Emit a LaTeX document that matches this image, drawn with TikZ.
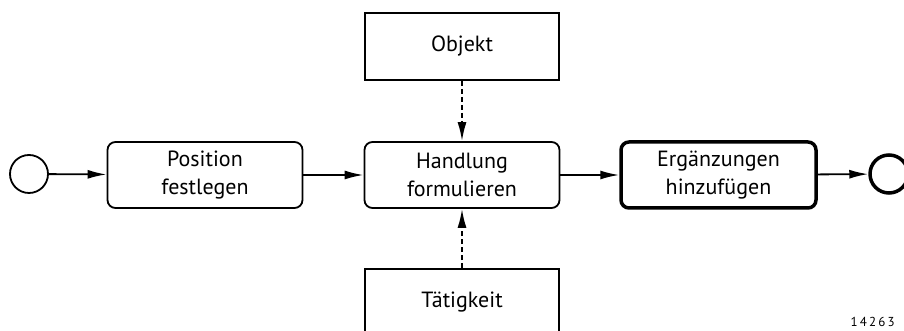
\documentclass[tikz,border=0pt]{standalone}
\usepackage{fontspec}
\setmainfont{PT Sans}
\usepackage{tikz}
\usetikzlibrary{arrows.meta}

\tikzset{
  task/.style={draw, rounded corners=8pt, line width=1.8pt, minimum width=195pt,
    minimum height=66pt, align=center, font=\fontsize{22}{28}\selectfont},
  objbox/.style={draw, line width=1.8pt, minimum width=194pt, minimum height=67pt,
    font=\fontsize{22}{28}\selectfont},
  event/.style={draw, circle, line width=1.8pt, minimum size=38pt, inner sep=0pt},
  flow/.style={line width=1.8pt, -{Latex[length=19pt,width=9pt]}},
  assoc/.style={line width=1.8pt, dash pattern=on 5pt off 3pt, -{Latex[length=19pt,width=9pt]}}
}

\begin{document}
\begin{tikzpicture}[x=1pt,y=1pt]
            \clip (0,0) rectangle (904,331);
            
            \node[event] (start) at (29,157) {};
            \node[task] (pos) at (205,156) {Position\\festlegen};
            \node[task] (hand) at (462,156) {Handlung\\formulieren};
            \node[task, line width=3.5pt] (erg) at (718.5,156) {Ergänzungen\\hinzufügen};
            \node[event, line width=3.5pt] (end) at (889,157) {};
            
            \node[objbox] (obj) at (462,284.5) {Objekt};
            \node[objbox] (taet) at (462,28.5) {Tätigkeit};
            
            \draw[flow] (start) -- (pos);
            \draw[flow] (pos) -- (hand);
            \draw[flow] (hand) -- (erg);
            \draw[flow] (erg) -- (end);
            \draw[assoc] (obj) -- (hand);
            \draw[assoc] (taet) -- (hand);
            
            \node[anchor=base west, font=\fontsize{13}{15}\selectfont] (nr) at (847,4) {1\,4\,2\,6\,3};
         \end{tikzpicture}
\end{document}
